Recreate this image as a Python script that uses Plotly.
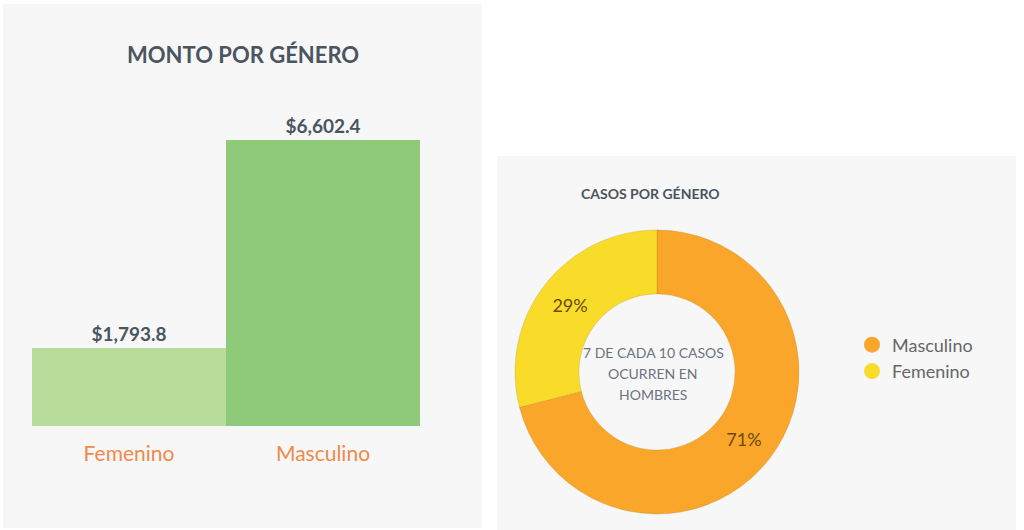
import plotly.graph_objects as go

# ---- data ----
bar_categories = ["Femenino", "Masculino"]
bar_values = [1793.8, 6602.4]
bar_colors = ["#b8dc9a", "#8fca7a"]

pie_labels = ["Masculino", "Femenino"]
pie_values = [71, 29]
pie_colors = ["#f9a62b", "#f9dc2a"]

center_lines = ["7 DE CADA 10 CASOS", "OCURREN EN", "HOMBRES"]

W, H = 1024, 530
FONT = "Lato, 'Open Sans', sans-serif"
DARK = "#4a5560"


def px(x):
    return x / W


def py(y):
    return 1 - y / H


fig = go.Figure()

fig.add_trace(go.Bar(
    x=bar_categories,
    y=bar_values,
    marker=dict(color=bar_colors, line=dict(width=0)),
    text=["${:,.1f}".format(v) for v in bar_values],
    textposition="outside",
    textfont=dict(family=FONT, size=19, color=DARK, weight="bold"),
    cliponaxis=False,
    showlegend=False,
    hoverinfo="skip",
    xaxis="x", yaxis="y",
))

fig.add_trace(go.Pie(
    labels=pie_labels,
    values=pie_values,
    hole=0.55,
    sort=False,
    direction="clockwise",
    rotation=0,
    marker=dict(colors=pie_colors, line=dict(width=0.6, color="rgba(150,110,20,0.35)")),
    textinfo="percent",
    texttemplate="%{percent:.0%}",
    textposition="inside",
    insidetextorientation="horizontal",
    textfont=dict(family=FONT, size=18, color="#6b4a10"),
    domain=dict(x=[px(515), px(799)], y=[py(514), py(230)]),
    showlegend=False,
    hoverinfo="label+percent",
))

for lab, col in zip(pie_labels, pie_colors):
    fig.add_trace(go.Scatter(
        x=[None], y=[None], mode="markers", name=lab,
        marker=dict(symbol="circle", size=18, color=col),
        xaxis="x2", yaxis="y2",
    ))

shapes = [
    dict(type="rect", xref="paper", yref="paper", x0=px(3), x1=px(482), y0=py(528), y1=py(4),
         fillcolor="#f7f7f7", line=dict(width=0), layer="below"),
    dict(type="rect", xref="paper", yref="paper", x0=px(497), x1=px(1016), y0=py(530), y1=py(156),
         fillcolor="#f7f7f7", line=dict(width=0), layer="below"),
]

annotations = [
    dict(text="MONTO POR GÉNERO", x=px(243), y=py(55), xref="paper", yref="paper",
         showarrow=False, xanchor="center", yanchor="middle",
         font=dict(family=FONT, size=22, color=DARK, weight="bold")),
    dict(text="CASOS POR GÉNERO", x=px(650), y=py(194), xref="paper", yref="paper",
         showarrow=False, xanchor="center", yanchor="middle",
         font=dict(family=FONT, size=14, color=DARK, weight="bold")),
]
for i, line in enumerate(center_lines):
    annotations.append(dict(
        text=line, x=px(653), y=py(352 + 21.5 * i), xref="paper", yref="paper",
        showarrow=False, xanchor="center", yanchor="middle",
        font=dict(family=FONT, size=14, color="#6b7480")))

fig.update_layout(
    width=W, height=H,
    margin=dict(l=0, r=0, t=0, b=0),
    paper_bgcolor="white",
    plot_bgcolor="rgba(0,0,0,0)",
    bargap=0,
    shapes=shapes,
    annotations=annotations,
    xaxis=dict(domain=[px(32), px(420)], range=[-0.5, 1.5], showgrid=False, zeroline=False,
               showline=False, ticks="", ticklabelstandoff=13,
               tickfont=dict(family=FONT, size=21, color="#f0894a"), fixedrange=True),
    yaxis=dict(domain=[py(426), py(100)], range=[0, 7526], visible=False, fixedrange=True),
    xaxis2=dict(domain=[0.9, 1], visible=False, anchor="y2"),
    yaxis2=dict(domain=[0.9, 1], visible=False, anchor="x2"),
    legend=dict(x=px(852), y=py(358), xanchor="left", yanchor="middle",
                font=dict(family=FONT, size=18, color="#666666"),
                bgcolor="rgba(0,0,0,0)", itemsizing="trace", tracegroupgap=0),
)

fig.write_html("out.html")
